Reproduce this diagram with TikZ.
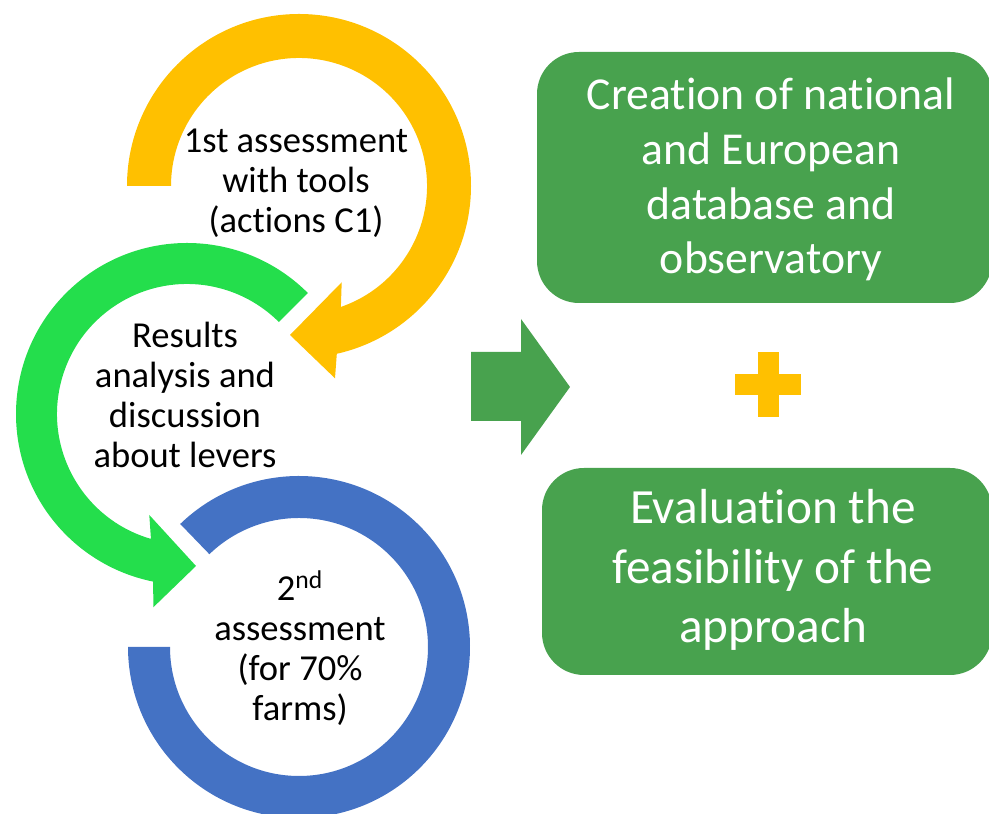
\documentclass[tikz,border=0pt]{standalone}
\usepackage{fontspec}
\setmainfont{Carlito}[Ligatures=NoCommon,Contextuals=NoAlternate]
\usetikzlibrary{calc}
\definecolor{cycleyellow}{RGB}{255,192,0}
\definecolor{cyclegreen}{RGB}{36,222,76}
\definecolor{cycleblue}{RGB}{68,114,196}
\definecolor{resultgreen}{RGB}{72,162,78}
% keeps "t" and "i" as separate glyphs
\newcommand{\tisplit}{\kern0pt }
\tikzset{
  steptext/.style={align=center,inner sep=0pt,text=black,font=\fontsize{26}{28.4}\selectfont},
  resultbox/.style={fill=resultgreen,rounded corners=1.05cm},
  resulttext/.style={align=center,inner sep=0pt,text=white},
}
\begin{document}
\begin{tikzpicture}[x=0.025cm,y=0.025cm]
\useasboundingbox (0,0) rectangle (989,814);
\clip (0,0) rectangle (989,814);

% centres of the three rings
\coordinate (ycen) at (299,628);
\coordinate (gcen) at (187,400);
\coordinate (bcen) at (299,167);

% yellow circular arrow: tail on the left, head pointing back inward at the bottom
\fill[cycleyellow] ($(ycen)+(180:172)$) arc[start angle=180,end angle=-77.3,radius=172]
  -- (335,435.7) -- (290,479) -- (341.7,531.7)
  -- ($(ycen)+(-70.9:128)$) arc[start angle=-70.9,end angle=180,radius=128] -- cycle;

% green circular arrow: tail at the upper right, head at the bottom
\fill[cyclegreen] ($(gcen)+(45:171)$) arc[start angle=45,end angle=258.6,radius=171]
  -- (153.3,206.7) -- (196,248) -- (149.3,299)
  -- ($(gcen)+(253.9:130)$) arc[start angle=253.9,end angle=45,radius=130] -- cycle;

% blue open ring
\fill[cycleblue] ($(bcen)+(134:171)$) arc[start angle=134,end angle=-180,radius=171]
  -- ($(bcen)+(180:129)$) arc[start angle=-180,end angle=134,radius=129] -- cycle;

% step labels
\node[steptext] (s1) at (296,631) {1st assessment\\with tools\\(act\tisplit ions C1)};
\node[steptext] (s2) at (185,419) {Results\\analysis and\\discussion\\about levers};
\node[steptext] (s3) at (300,166) {2\textsuperscript{nd}\\assessment\\(for 70\%\\farms)};

% block arrow towards the outcomes
\fill[resultgreen] (471,393) -- (521,393) -- (521,359) -- (570,427) -- (521,495)
  -- (521,462) -- (471,462) -- cycle;

% outcome boxes
\fill[resultbox] (537,511) rectangle (992,762);
\node[resulttext,font=\fontsize{32.5}{39}\selectfont] (o1) at (771,634.5)
  {Creat\tisplit ion of nat\tisplit ional\\and European\\database and\\observatory};

\fill[resultbox] (542,139) rectangle (992,346);
\node[resulttext,font=\fontsize{35}{42.5}\selectfont] (o2) at (773,244)
  {Evaluat\tisplit ion the\\feasibility of the\\approach};

% plus sign between the boxes
\fill[cycleyellow] (758,397) rectangle (779,462);
\fill[cycleyellow] (735,419) rectangle (801,440);
\end{tikzpicture}
\end{document}
